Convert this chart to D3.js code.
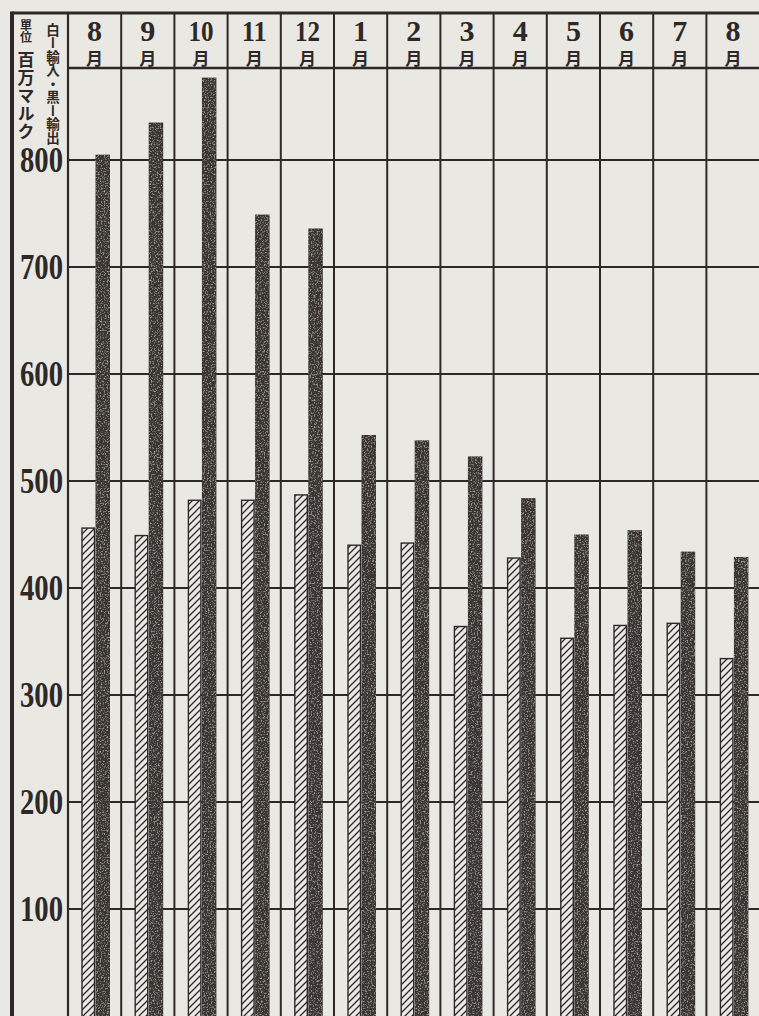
<!DOCTYPE html>
<html>
<head>
<meta charset="utf-8">
<script src="https://cdn.jsdelivr.net/npm/d3@7/dist/d3.min.js"></script>
<style>
  body { margin: 0; background: #eae8e3; }
  svg { display: block; }
</style>
</head>
<body>
<svg width="759" height="1016"></svg>
<script>
"use strict";

// months, Aug .. Aug
var months = ["8", "9", "10", "11", "12", "1", "2", "3", "4", "5", "6", "7", "8"];
// 白 = 輸入 (import), 黒 = 輸出 (export), 百万マルク
var imports = [456, 449, 482, 482, 487, 440, 442, 364, 428, 353, 365, 367, 334];
var exports = [805, 835, 877, 749, 736, 543, 538, 523, 484, 450, 454, 434, 429];
var yTicks = [100, 200, 300, 400, 500, 600, 700, 800];

var ink = "#2e2928",
    paper = "#eae8e3",
    barInk = "#3b3432";

window.onload = renderMyChart;

function renderMyChart() {
    var svg = d3.select("svg"),
        width = +svg.attr("width"),
        height = +svg.attr("height"),
        left = 12, top = 13, labelW = 68, headerB = 68;

    svg.append("rect").attr("width", width).attr("height", height).attr("fill", paper);

    var defs = svg.append("defs");
    var hatch = defs.append("pattern")
        .attr("id", "hatch")
        .attr("patternUnits", "userSpaceOnUse")
        .attr("width", 7).attr("height", 7);
    hatch.append("rect").attr("width", 7).attr("height", 7).attr("fill", paper);
    hatch.append("path")
        .attr("d", "M0,7 L7,0 M-2,2 L2,-2 M5,9 L9,5")
        .attr("stroke", ink).attr("stroke-width", 1.3);

    // mottled print texture for the black bars
    var grain = defs.append("filter").attr("id", "grain")
        .attr("x", 0).attr("y", 0).attr("width", 1).attr("height", 1);
    grain.append("feTurbulence").attr("type", "fractalNoise")
        .attr("baseFrequency", 0.7).attr("numOctaves", 2).attr("result", "noise");
    grain.append("feColorMatrix").attr("in", "noise").attr("type", "matrix")
        .attr("values", "0 0 0 0 0.5  0 0 0 0 0.47  0 0 0 0 0.45  0 0 0 -2.6 1.25")
        .attr("result", "specks");
    grain.append("feComposite").attr("in", "specks").attr("in2", "SourceGraphic")
        .attr("operator", "in").attr("result", "sp");
    var merge = grain.append("feMerge");
    merge.append("feMergeNode").attr("in", "SourceGraphic");
    merge.append("feMergeNode").attr("in", "sp");

    var keys = d3.range(months.length);
    var x = d3.scaleBand().domain(keys).range([labelW, labelW + 53.2 * months.length]).padding(0),
        x1 = d3.scaleBand().domain(["imp", "exp"]).range([14, 41]).padding(0),
        y = d3.scaleLinear().domain([0, 800]).range([1016, 160]);

    // horizontal grid
    svg.append("g").selectAll("line")
        .data(yTicks)
        .enter().append("line")
        .attr("x1", labelW).attr("x2", width)
        .attr("y1", function (d) { return y(d); })
        .attr("y2", function (d) { return y(d); })
        .attr("stroke", ink).attr("stroke-width", 2);

    // column rules
    svg.append("g").selectAll("line")
        .data(keys.slice(1))
        .enter().append("line")
        .attr("x1", function (d) { return x(d); })
        .attr("x2", function (d) { return x(d); })
        .attr("y1", top).attr("y2", height)
        .attr("stroke", ink).attr("stroke-width", 2);

    // bars
    var g = svg.append("g");
    g.selectAll(".imp")
        .data(imports)
        .enter().append("rect")
        .attr("class", "imp")
        .attr("x", function (d, i) { return x(i) + x1("imp"); })
        .attr("y", function (d) { return y(d); })
        .attr("width", x1.bandwidth() - 1)
        .attr("height", function (d) { return y(0) - y(d) + 5; })
        .attr("fill", "url(#hatch)")
        .attr("stroke", ink).attr("stroke-width", 1.4);

    g.selectAll(".exp")
        .data(exports)
        .enter().append("rect")
        .attr("class", "exp")
        .attr("x", function (d, i) { return x(i) + x1("exp"); })
        .attr("y", function (d) { return y(d); })
        .attr("width", x1.bandwidth() + 1)
        .attr("height", function (d) { return y(0) - y(d) + 5; })
        .attr("fill", barInk)
        .attr("filter", "url(#grain)");

    // header
    svg.append("rect")
        .attr("x", labelW).attr("y", top)
        .attr("width", width - labelW).attr("height", headerB - top)
        .attr("fill", paper);
    svg.append("g").selectAll("line")
        .data(keys.slice(1))
        .enter().append("line")
        .attr("x1", function (d) { return x(d); })
        .attr("x2", function (d) { return x(d); })
        .attr("y1", top).attr("y2", headerB)
        .attr("stroke", ink).attr("stroke-width", 2);
    svg.append("line")
        .attr("x1", labelW).attr("x2", width)
        .attr("y1", headerB).attr("y2", headerB)
        .attr("stroke", ink).attr("stroke-width", 2.4);

    var head = svg.append("g").selectAll("g")
        .data(months)
        .enter().append("g")
        .attr("transform", function (d, i) { return "translate(" + (x(i) + x.bandwidth() / 2) + ",0)"; });
    head.append("text")
        .attr("y", 41)
        .attr("text-anchor", "middle")
        .attr("font-family", "Liberation Serif")
        .attr("font-weight", "bold")
        .attr("font-size", 30)
        .attr("fill", ink)
        .each(function (d) {
            if (d.length > 1) {
                d3.select(this).attr("textLength", 25).attr("lengthAdjust", "spacingAndGlyphs");
            }
        })
        .text(function (d) { return d; });
    head.append("text")
        .attr("y", 65)
        .attr("text-anchor", "middle")
        .attr("font-family", "Noto Sans CJK JP")
        .attr("font-weight", "bold")
        .attr("font-size", 17)
        .attr("fill", ink)
        .text("月");

    // y labels
    svg.append("g").selectAll("text")
        .data(yTicks)
        .enter().append("text")
        .attr("x", 20)
        .attr("y", function (d) { return y(d) + 12; })
        .attr("font-family", "Liberation Serif")
        .attr("font-weight", "bold")
        .attr("font-size", 35)
        .attr("textLength", 43)
        .attr("lengthAdjust", "spacingAndGlyphs")
        .attr("fill", ink)
        .text(function (d) { return d; });

    // unit and legend (vertical)
    svg.append("text")
        .attr("x", 26).attr("y", 19)
        .attr("writing-mode", "vertical-rl")
        .attr("font-family", "Noto Sans CJK JP")
        .attr("font-weight", "bold")
        .attr("font-size", 12)
        .attr("fill", ink)
        .text("單位");
    svg.append("text")
        .attr("x", 26).attr("y", 51)
        .attr("writing-mode", "vertical-rl")
        .attr("font-family", "Noto Sans CJK JP")
        .attr("font-weight", "bold")
        .attr("font-size", 17)
        .attr("letter-spacing", 1)
        .attr("fill", ink)
        .text("百万マルク");
    svg.append("text")
        .attr("x", 53).attr("y", 23)
        .attr("writing-mode", "vertical-rl")
        .attr("font-family", "Noto Sans CJK JP")
        .attr("font-weight", "bold")
        .attr("font-size", 13.5)
        .attr("fill", ink)
        .text("白ー輸入・黒ー輸出");

    // frame
    svg.append("line")
        .attr("x1", labelW).attr("x2", labelW)
        .attr("y1", top).attr("y2", height)
        .attr("stroke", ink).attr("stroke-width", 2.2);
    svg.append("line")
        .attr("x1", left).attr("x2", left)
        .attr("y1", top - 1.5).attr("y2", height)
        .attr("stroke", ink).attr("stroke-width", 4);
    svg.append("line")
        .attr("x1", left).attr("x2", width)
        .attr("y1", top).attr("y2", top)
        .attr("stroke", ink).attr("stroke-width", 3);
}
</script>
</body>
</html>
